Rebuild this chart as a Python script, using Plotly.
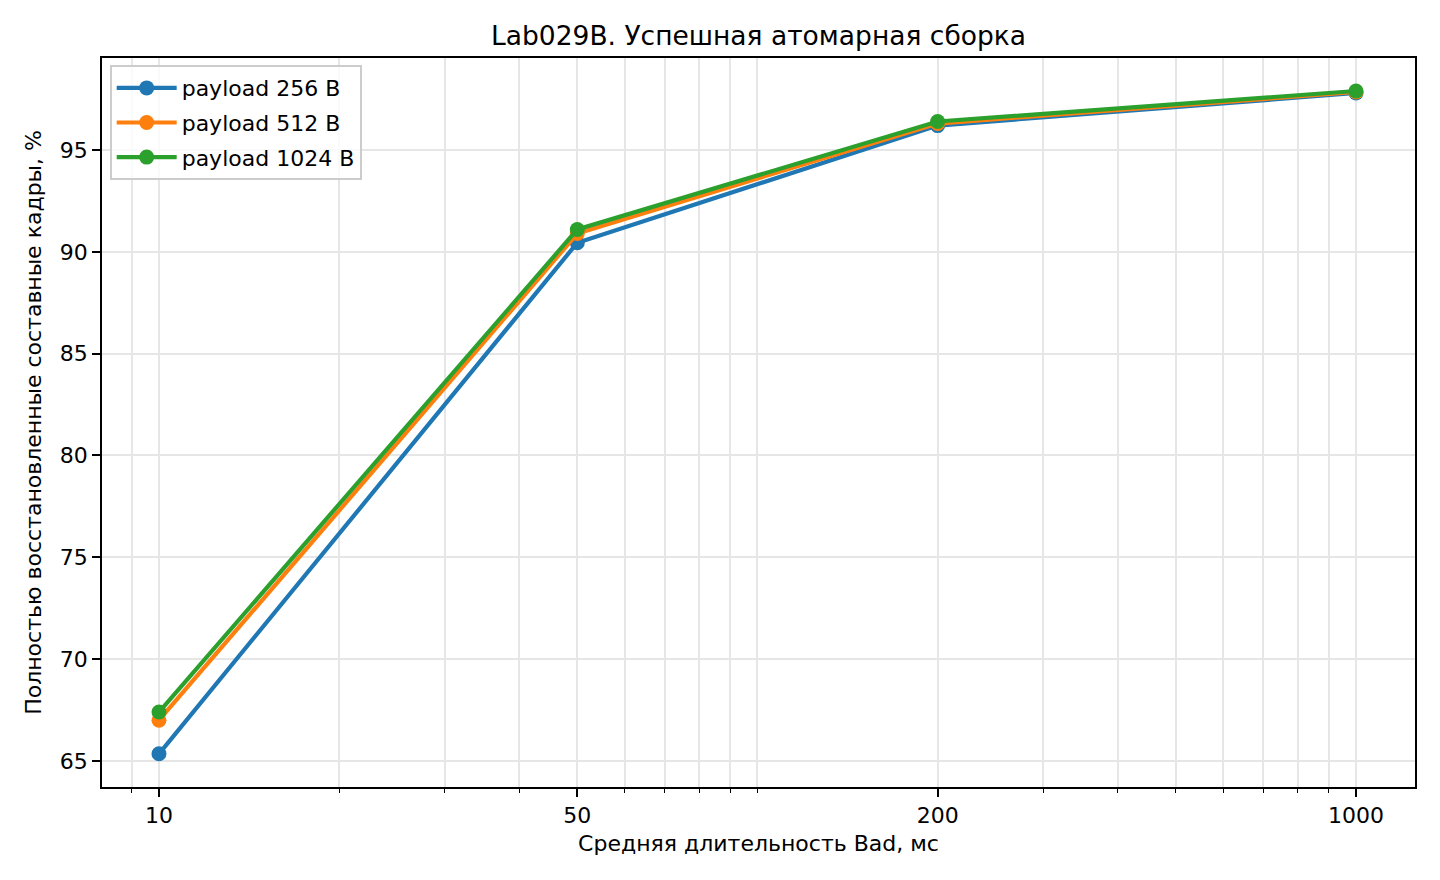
import plotly.graph_objects as go

# mean Bad duration, ms
durations = [10, 50, 200, 1000]

series_names = ["payload 256 B", "payload 512 B", "payload 1024 B"]
recovered_256 = [65.35, 90.45, 96.2, 97.8]
recovered_512 = [67.0, 90.9, 96.3, 97.85]
recovered_1024 = [67.4, 91.1, 96.4, 97.9]

tick_labels = ["10", "50", "200", "1000"]
minor_vals = [9, 20, 30, 40, 60, 70, 80, 90, 100, 300, 400, 500, 600, 700, 800, 900]
y_ticks = [65, 70, 75, 80, 85, 90, 95]

colors = ["#1f77b4", "#ff7f0e", "#2ca02c"]

fig = go.Figure()

for name, vals, col in zip(series_names, [recovered_256, recovered_512, recovered_1024], colors):
    fig.add_trace(go.Scatter(
        x=durations,
        y=vals,
        mode="lines+markers",
        name=name,
        legendgroup=name,
        line=dict(color=col, width=4.2),
        marker=dict(color=col, size=15),
    ))

font = "DejaVu Sans, sans-serif"
grid = "#e6e6e6"

# page body has an 8px margin, so the figure is 16px smaller than the window
fig.update_layout(
    width=1424,
    height=864,
    paper_bgcolor="white",
    plot_bgcolor="white",
    margin=dict(l=94, r=17, t=50, b=85),
    font=dict(family=font, size=22, color="black"),
    title=dict(text="Lab029B. Успешная атомарная сборка", x=0.5, xanchor="center",
               xref="paper", y=1 - 28 / 864, yanchor="middle", font=dict(size=26.5)),
    showlegend=True,
    legend=dict(x=0.006, y=0.99, xanchor="left", yanchor="top",
                bordercolor="#cccccc", borderwidth=1.8, bgcolor="rgba(255,255,255,0.8)",
                tracegroupgap=3, itemwidth=60,
                font=dict(size=22)),
)

fig.update_xaxes(
    type="log",
    range=[0.9048, 3.0986],
    tickmode="array",
    tickvals=durations,
    ticktext=tick_labels,
    ticks="outside",
    ticklen=8,
    tickwidth=1.8,
    tickcolor="black",
    showline=True,
    linecolor="black",
    linewidth=1.8,
    mirror=True,
    showgrid=True,
    gridcolor=grid,
    gridwidth=1.6,
    zeroline=False,
    minor=dict(tickmode="array", tickvals=minor_vals, ticks="outside", ticklen=4.5,
               tickwidth=1.4, tickcolor="black", showgrid=True, gridcolor=grid, gridwidth=1.6),
    title=dict(text="Средняя длительность Bad, мс", font=dict(size=22), standoff=8),
)

fig.update_yaxes(
    range=[63.72, 99.52],
    tickmode="array",
    tickvals=y_ticks,
    ticks="outside",
    ticklen=8,
    tickwidth=1.8,
    tickcolor="black",
    showline=True,
    linecolor="black",
    linewidth=1.8,
    mirror=True,
    showgrid=True,
    gridcolor=grid,
    gridwidth=1.6,
    zeroline=False,
    title=dict(text="Полностью восстановленные составные кадры, %", font=dict(size=22), standoff=12),
)

fig.write_html("out.html")
